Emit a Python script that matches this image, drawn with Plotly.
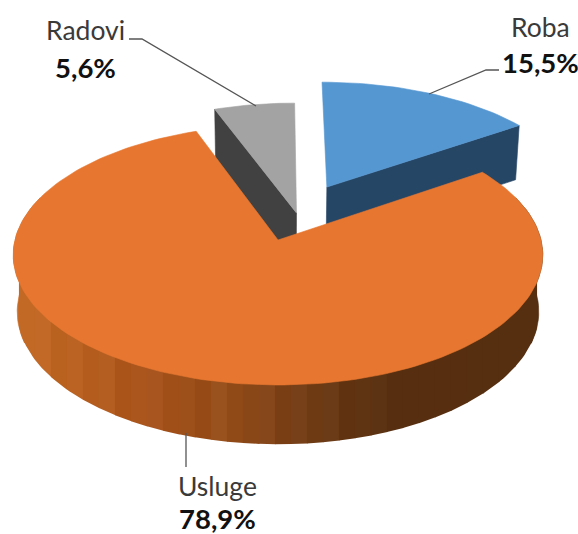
import math
import numpy as np
import plotly.graph_objects as go

# ---- data ----
categories = ["Roba", "Usluge", "Radovi"]
values = [15.5, 78.9, 5.6]
top_colors = ["#5597D1", "#E77730", "#A3A3A3"]
side_colors = ["#264666", None, "#414141"]

# ---- 3D projection of the pie disc onto the page ----
CX, CY = 278, 240          # page position of the disc centre
A, B, K = 263, 128.3, 0.115  # horizontal scale, vertical scale, perspective
explode = {"Roba": (0.195, 0.433), "Usluge": (0, 0), "Radovi": (0.072, 0.216)}

def project(theta_deg, radius, offset):
    t = math.radians(theta_deg)
    X = radius * math.sin(t) + offset[0]
    Y = radius * math.cos(t) + offset[1]
    w = 1 + K * Y
    return CX + A * X / w, CY - B * Y / w

def lower(pt):
    x, y = pt
    up = CY - y
    return CX + (x - CX) * 0.985, y + 56.5 - 0.019 * up

def poly(fig, pts, color, name, width=0.6):
    xs = [p[0] for p in pts] + [pts[0][0]]
    ys = [p[1] for p in pts] + [pts[0][1]]
    fig.add_trace(go.Scatter(x=xs, y=ys, mode="lines", fill="toself", fillcolor=color,
                             line=dict(color=color, width=width), hoverinfo="skip", name=name))

def arc(start, end, offset, n):
    return [project(start + (end - start) * i / n, 1, offset) for i in range(n + 1)]

# slice angles from the values (clockwise from twelve o'clock)
angles = {}
acc = 0.0
for c, v in zip(categories, values):
    angles[c] = (acc * 3.6, (acc + v) * 3.6)
    acc += v

fig = go.Figure()

# Radovi
s, e = angles["Radovi"]
off = explode["Radovi"]
apex = project(0, 0, off)
left = project(s, 1, off)
poly(fig, [left, apex, lower(apex), lower(left)], side_colors[2], "Radovi side")
poly(fig, [apex] + arc(s, e, off, 16), top_colors[2], "Radovi")

# Roba
s, e = angles["Roba"]
off = explode["Roba"]
apex = project(0, 0, off)
right = project(e, 1, off)
poly(fig, [apex, right, lower(right), lower(apex)], side_colors[0], "Roba side")
poly(fig, [apex] + arc(s, e, off, 30), top_colors[0], "Roba")

# Usluge: banded outer wall, then top
s, e = angles["Usluge"]
off = explode["Usluge"]
stops = [(12, (198, 108, 40)), (60, (188, 100, 34)), (110, (176, 90, 30)), (160, (165, 82, 28)),
         (220, (150, 78, 26)), (280, (126, 66, 24)), (330, (104, 56, 20)), (385, (88, 48, 16)),
         (545, (86, 47, 16))]
ripple = [0, 3, -3, 2, -1, 4, -3, 1, 3, -2, 0, -4, 3, -1]

def wall_color(x, i):
    for (x0, c0), (x1, c1) in zip(stops, stops[1:]):
        if x <= x1:
            f = max(0, (x - x0) / (x1 - x0))
            rgb = [c0[j] + (c1[j] - c0[j]) * f for j in range(3)]
            break
    d = ripple[i % len(ripple)] * (0 if x > 385 else 1)
    return "rgb(%d,%d,%d)" % tuple(max(0, min(255, v + d)) for v in rgb)

# front half of the rim, top edge and bottom edge, as functions of page x
front = [project(t, 1, off) for t in np.arange(90, 270.5, 0.5)]   # runs right to left
top_x = np.array([p[0] for p in front][::-1])
top_y = np.array([p[1] for p in front][::-1])
low = [lower(p) for p in front]
low_x = np.array([p[0] for p in low][::-1])
low_y = np.array([p[1] for p in low][::-1])

# slivers at both ends, where the wall curves round
poly(fig, [project(t, 1, off) for t in range(250, 291, 2)] + [lower(project(t, 1, off)) for t in range(290, 249, -2)],
     "rgb(198,108,40)", "Usluge side")
poly(fig, [project(t, 1, off) for t in range(70, 111, 2)] + [lower(project(t, 1, off)) for t in range(110, 69, -2)],
     "rgb(86,47,16)", "Usluge side")

# vertical bands
edges = np.arange(low_x[0], low_x[-1] + 16, 16.0)
edges[-1] = low_x[-1]
for i, (x0, x1) in enumerate(zip(edges[:-1], edges[1:])):
    xs = np.linspace(x0, min(x1 + 0.5, low_x[-1]), 8)
    up = np.interp(xs, top_x, top_y) - 3
    dn = np.interp(xs, low_x, low_y)
    pts = list(zip(xs, up)) + list(zip(xs[::-1], dn[::-1]))
    poly(fig, pts, wall_color((x0 + x1) / 2, i), "Usluge side", width=0)

poly(fig, [project(0, 0, off)] + arc(s, e, off, 180), top_colors[1], "Usluge")

# leader lines
fig.add_trace(go.Scatter(x=[499, 486, 429], y=[70, 70, 94], mode="lines", line=dict(color="#555555", width=1.3), hoverinfo="skip"))
fig.add_trace(go.Scatter(x=[129, 142, 256], y=[39, 39, 106], mode="lines", line=dict(color="#555555", width=1.3), hoverinfo="skip"))
fig.add_trace(go.Scatter(x=[186, 186], y=[433, 467], mode="lines", line=dict(color="#555555", width=1.3), hoverinfo="skip"))

# labels
label_pos = {"Roba": (540, 27, 540, 62), "Radovi": (85, 30, 85, 67), "Usluge": (217, 486, 217, 518)}
annotations = []
for c, v in zip(categories, values):
    x1, y1, x2, y2 = label_pos[c]
    pct = f"{v:.1f}".replace(".", ",") + "%"
    annotations.append(dict(x=x1, y=y1, text=c, showarrow=False, xanchor="center", yanchor="middle",
                            font=dict(family="Lato", size=26.5, color="#3A3A3A")))
    annotations.append(dict(x=x2, y=y2, text="<b>" + pct + "</b>", showarrow=False, xanchor="center", yanchor="middle",
                            font=dict(family="Lato", size=27.5, color="#111111")))

fig.update_layout(width=578, height=534, autosize=False, margin=dict(l=0, r=0, t=0, b=0),
                  paper_bgcolor="white", plot_bgcolor="white", showlegend=False,
                  xaxis=dict(range=[0, 578], visible=False, fixedrange=True),
                  yaxis=dict(range=[534, 0], visible=False, fixedrange=True),
                  annotations=annotations)
fig.write_html("out.html", config=dict(displayModeBar=False),
               post_script="document.body.style.margin='0';")
